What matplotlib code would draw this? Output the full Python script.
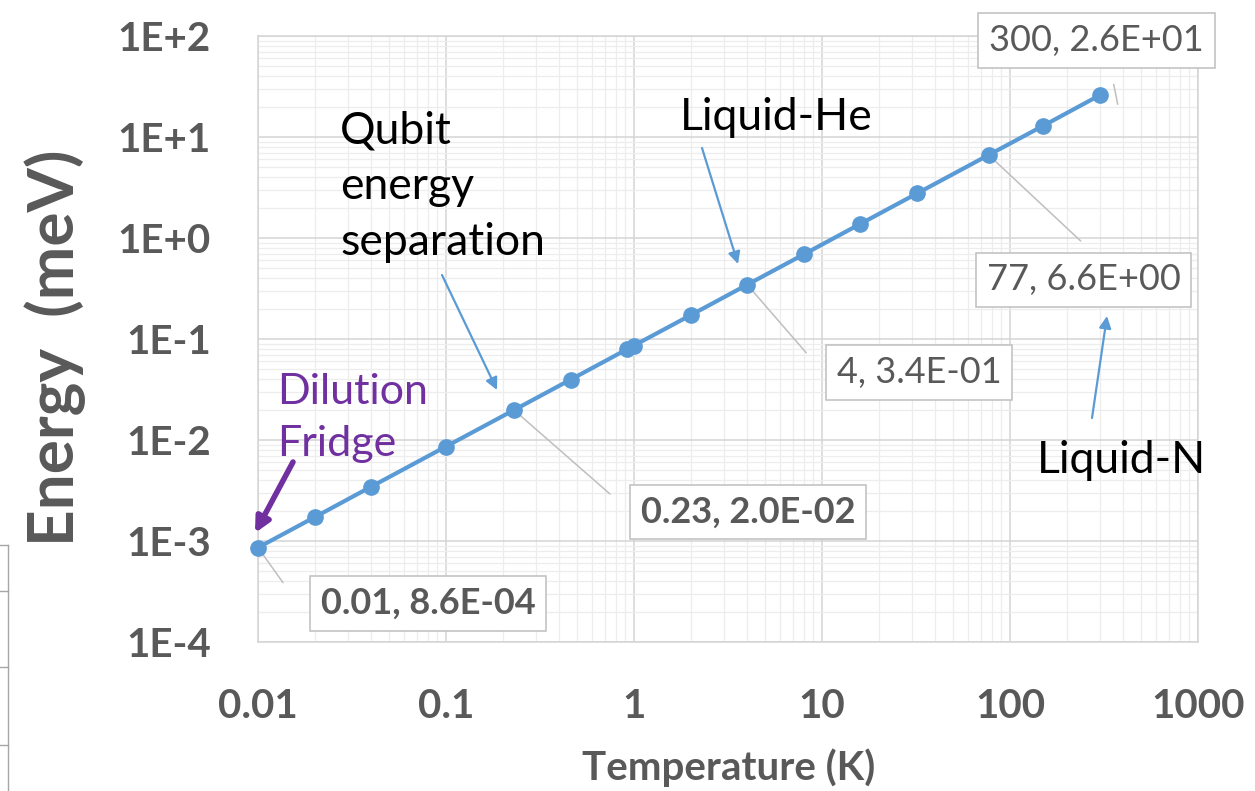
import math
import matplotlib
matplotlib.use("Agg")
import matplotlib.pyplot as plt
from matplotlib.ticker import FixedLocator, FuncFormatter, LogLocator, NullFormatter
from matplotlib.transforms import offset_copy
from matplotlib.lines import Line2D

# Thermal energy k_B*T versus temperature
temperature_k = [0.01, 0.02, 0.04, 0.1, 0.23, 0.46, 0.92, 1, 2, 4, 8, 16, 32, 77, 150, 300]
energy_mev = [0.00086, 0.00172, 0.00345, 0.00862, 0.0198, 0.0396, 0.0793, 0.0862,
              0.172, 0.3447, 0.689, 1.38, 2.76, 6.64, 12.9, 25.9]

x_ticks = [0.01, 0.1, 1, 10, 100, 1000]
y_ticks = [1e-4, 1e-3, 1e-2, 1e-1, 1e0, 1e1, 1e2]

# points that carry a value label, and whether the label is bold
labelled_points = [0, 4, 9, 13, 15]
bold_labels = [True, True, False, False, False]

BLUE = "#5B9BD5"
GREY_TXT = "#595959"
PURPLE = "#7030A0"
FONT = ["Lato", "DejaVu Sans"]

W, H = 1255, 791
fig = plt.figure(figsize=(W / 100, H / 100), dpi=100)
L, R, T, B = 258, 1198, 36, 642
ax = fig.add_axes([L / W, 1 - B / H, (R - L) / W, (B - T) / H])

ax.set_xscale("log")
ax.set_yscale("log")
ax.set_xlim(x_ticks[0], x_ticks[-1])
ax.set_ylim(y_ticks[0], y_ticks[-1])

ax.xaxis.set_major_locator(FixedLocator(x_ticks))
ax.yaxis.set_major_locator(FixedLocator(y_ticks))
ax.xaxis.set_minor_locator(LogLocator(base=10, subs=range(2, 10), numticks=20))
ax.yaxis.set_minor_locator(LogLocator(base=10, subs=range(2, 10), numticks=20))
ax.xaxis.set_minor_formatter(NullFormatter())
ax.yaxis.set_minor_formatter(NullFormatter())
ax.xaxis.set_major_formatter(FuncFormatter(lambda v, p: f"{v:g}"))
ax.yaxis.set_major_formatter(FuncFormatter(lambda v, p: f"1E{int(round(math.log10(v))):+d}"))

ax.grid(True, which="major", color="#D4D4D4", lw=1.1)
ax.grid(True, which="minor", color="#EDEDED", lw=0.9)
ax.set_axisbelow(True)
for s in ax.spines.values():
    s.set_color("#D4D4D4")
    s.set_linewidth(1.1)

ax.tick_params(which="both", length=0)
ax.tick_params(axis="y", pad=34)
ax.tick_params(axis="x", pad=33)
for lab in ax.get_xticklabels() + ax.get_yticklabels():
    lab.set_fontfamily(FONT)
    lab.set_fontweight("bold")
    lab.set_fontsize(29)
    lab.set_color(GREY_TXT)

fig.text(55 / W, 1 - 348 / H, "Energy  (meV)", rotation=90, ha="center", va="center",
         fontsize=46, fontweight="bold", color=GREY_TXT, family=FONT)
fig.text(729 / W, 1 - 768 / H, "Temperature (K)", ha="center", va="center",
         fontsize=29, fontweight="bold", color=GREY_TXT, family=FONT)

ax.plot(temperature_k, energy_mev, color=BLUE, lw=3, marker="o", ms=11,
        mec=BLUE, mfc=BLUE, clip_on=False, zorder=5)

# value labels with leader lines (offsets in pixels from the point)
box_offsets = [(170, -56), (234, -102), (172, -88), (95, -125), (-3, 55)]
leader_lines = [((0, 0), (25, -35)), ((0, 0), (96, -84)), ((0, 0), (59, -68)),
                ((0, 0), (92, -86)), ((14, 11), (18, -9))]
for i, bold, off, (p0, p1) in zip(labelled_points, bold_labels, box_offsets, leader_lines):
    t, e = temperature_k[i], energy_mev[i]
    start = offset_copy(ax.transData, fig=fig, x=p0[0], y=p0[1], units="dots")
    ax.annotate("", xy=(t, e), xycoords=start, xytext=(p1[0] - p0[0], p1[1] - p0[1]),
                textcoords="offset pixels", annotation_clip=False,
                arrowprops=dict(arrowstyle="-", color="#BFBFBF", lw=1.1,
                                shrinkA=0, shrinkB=0), zorder=4)
    ax.annotate(f"{t:g}, {e:.1E}", xy=(t, e), xytext=off, textcoords="offset pixels",
                ha="center", va="center", fontsize=26, family=FONT,
                fontweight="bold" if bold else "normal", color=GREY_TXT,
                annotation_clip=False, zorder=6,
                bbox=dict(boxstyle="square,pad=0.3", fc="white", ec="#BFBFBF", lw=1.1))


def frac(px, py):
    return ((px - L) / (R - L), (B - py) / (B - T))


# callout texts (multi-line blocks are anchored on the baseline of their last line)
ax.text(*frac(340, 255), "Qubit\nenergy\nseparation", transform=ax.transAxes,
        ha="left", va="baseline", fontsize=32, family=FONT, color="black",
        linespacing=1.45, zorder=7)
ax.text(*frac(680, 130), "Liquid-He", transform=ax.transAxes, ha="left", va="baseline",
        fontsize=32, family=FONT, color="black", zorder=7)
ax.text(*frac(1037, 473), "Liquid-N", transform=ax.transAxes, ha="left", va="baseline",
        fontsize=32, family=FONT, color="black", zorder=7)
ax.text(*frac(277, 456), "Dilution\nFridge", transform=ax.transAxes, ha="left",
        va="baseline", fontsize=31, family=FONT, color=PURPLE, linespacing=1.45, zorder=7)

arrows = [((442, 275), (497, 390), BLUE, 1.6, 18),
          ((702, 148), (738, 264), BLUE, 1.6, 18),
          ((1092, 418), (1107, 316), BLUE, 1.6, 18),
          ((293, 462), (255, 533), PURPLE, 4.0, 22)]
for tail, tip, col, lw, ms in arrows:
    ax.annotate("", xy=frac(*tip), xycoords="axes fraction", xytext=frac(*tail),
                textcoords="axes fraction", annotation_clip=False, zorder=8,
                arrowprops=dict(arrowstyle="-|>", color=col, lw=lw, mutation_scale=ms,
                                shrinkA=0, shrinkB=0))

# partial cell outline at the lower left edge
edge = "#A6A6A6"
fig.add_artist(Line2D([8 / W, 8 / W], [0, 1 - 545 / H], transform=fig.transFigure, color=edge, lw=1))
for yy in [545, 591, 667, 745]:
    fig.add_artist(Line2D([0, 8 / W], [1 - yy / H, 1 - yy / H], transform=fig.transFigure,
                          color=edge, lw=1))

fig.savefig("out.png", dpi=100, facecolor="white")
